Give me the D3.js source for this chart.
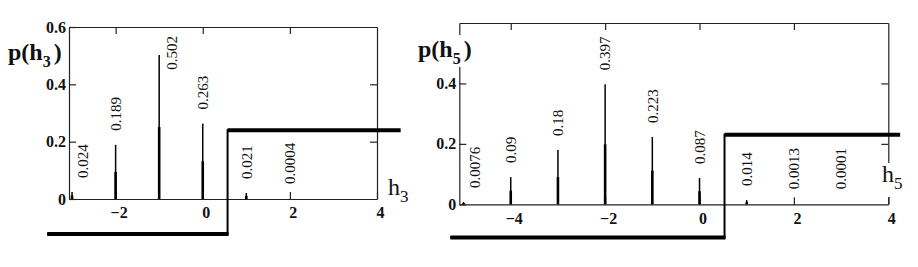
<!DOCTYPE html>
<html>
<head>
<meta charset="utf-8">
<script src="https://cdn.jsdelivr.net/npm/d3@7"></script>
<style>
  html, body { margin: 0; padding: 0; background: #fff; }
  svg { display: block; }
</style>
</head>
<body>
<div id="chart"></div>
<script>
// h3 distribution
const h3Values = [-3, -2, -1, 0, 1, 2];
const p3Values = [0.024, 0.189, 0.502, 0.263, 0.021, 0.0004];
const h3Ticks = [-2, 0, 2, 4];
const p3Ticks = [0, 0.2, 0.4, 0.6];
const step3 = [[-3.57, -0.122], [0.57, -0.122], [0.57, 0.24], [4.52, 0.24]];

// h5 distribution
const h5Values = [-5, -4, -3, -2, -1, 0, 1, 2, 3];
const p5Values = [0.0076, 0.09, 0.18, 0.397, 0.223, 0.087, 0.014, 0.0013, 0.0001];
const h5Ticks = [-4, -2, 0, 2, 4];
const p5Ticks = [0, 0.2, 0.4];
const step5 = [[-5.28, -0.11], [0.53, -0.11], [0.53, 0.23], [4.23, 0.23]];

const SERIF = '"Liberation Serif"';
const INK = '#222';
const fmt = d => (d < 0 ? '\u2212' : '') + String(Math.abs(d));

const svg = d3.select('#chart').append('svg')
  .attr('width', 918).attr('height', 267);

function panel(o) {
  const x = d3.scaleLinear().domain(o.xDomain).range([o.left, o.right]);
  const y = d3.scaleLinear().domain([0, 0.6]).range([o.bottom, o.top]);
  const g = svg.append('g');
  const yMax = y.domain()[1], xMax = x.domain()[1];

  const style = sel => {
    sel.attr('font-family', null).attr('font-size', null);
    sel.select('.domain').attr('stroke', INK).attr('stroke-width', 1.2);
    sel.selectAll('.tick line').attr('stroke', INK).attr('stroke-width', 1.2);
    sel.selectAll('.tick text').style('font-family', SERIF)
      .attr('font-size', 16).attr('font-weight', 'bold').attr('fill', '#111');
  };

  // box: bottom, top, left, right
  g.append('g').attr('transform', `translate(0,${o.bottom})`)
    .call(d3.axisBottom(x).tickValues(o.xTicks).tickSizeInner(-7).tickSizeOuter(0).tickPadding(8).tickFormat(fmt))
    .call(style)
    .call(s => s.selectAll('.tick text').attr('dx', 3));

  g.append('g').attr('transform', `translate(0,${o.top})`)
    .call(d3.axisTop(x).tickValues(o.xTicks.filter(v => v < xMax)).tickSizeInner(-7).tickSizeOuter(0).tickFormat(''))
    .call(style);

  g.append('g').attr('transform', `translate(${o.left},0)`)
    .call(d3.axisLeft(y).tickValues(o.yTicks).tickSizeInner(-7).tickSizeOuter(0).tickPadding(3).tickFormat(fmt))
    .call(style);

  g.append('g').attr('transform', `translate(${o.right},0)`)
    .call(d3.axisRight(y).tickValues(o.yTicks.filter(v => v > 0 && v < yMax)).tickSizeInner(-7).tickSizeOuter(0).tickFormat(''))
    .call(style);

  // stems
  const data = o.h.map((h, i) => ({ h, p: o.p[i] }));
  g.selectAll('.stem').data(data).join('line')
    .attr('x1', d => x(d.h)).attr('x2', d => x(d.h))
    .attr('y1', y(0)).attr('y2', d => y(d.p))
    .attr('stroke', '#000').attr('stroke-width', 1.5);
  g.selectAll('.stem-base').data(data).join('line')
    .attr('x1', d => x(d.h)).attr('x2', d => x(d.h))
    .attr('y1', y(0)).attr('y2', d => y(d.p / 2))
    .attr('stroke', '#000').attr('stroke-width', 2.6);

  // value labels, rotated, above stems
  data.forEach(d => {
    const label = String(d.p);
    const len = label.length * 7.5 - 3.75;
    const top = y(d.p);
    let lx = x(d.h), ly, anchor = 'start';
    if (lx - o.left < 8) lx += 11;
    if (top - 14 - len < o.top + 5) {
      lx += 13; ly = o.top + 9; anchor = 'end';
    } else {
      ly = Math.min(top - 14, o.bottom - 15);
    }
    g.append('text')
      .attr('transform', `translate(${lx},${ly}) rotate(-90)`)
      .attr('text-anchor', anchor).attr('dy', '0.35em')
      .style('font-family', SERIF)
      .attr('font-size', 15).attr('fill', '#111')
      .text(label);
  });

  // step line overlay
  const pts = o.step.map(([sx, sy]) => [x(sx), y(sy)]);
  g.append('path').attr('d', d3.line()(pts))
    .attr('fill', 'none').attr('stroke', '#000').attr('stroke-width', 2);
  d3.pairs(pts).filter(([a, b]) => a[1] === b[1]).forEach(([a, b]) => {
    g.append('line').attr('x1', a[0]).attr('x2', b[0] + 1).attr('y1', a[1]).attr('y2', b[1])
      .attr('stroke', '#000').attr('stroke-width', 4);
  });

  // axis titles
  const yt = g.append('g');
  if (o.yTitleBg) yt.append('rect').attr('x', o.yTitle[0]).attr('y', o.yTitle[1] - 22)
    .attr('width', 56).attr('height', 32).attr('fill', '#fff');
  yt.append('text').attr('x', o.yTitle[0]).attr('y', o.yTitle[1])
    .style('font-family', SERIF)
    .attr('font-size', 24).attr('font-weight', 'bold').attr('fill', '#111')
    .call(t => {
      t.append('tspan').text('p(h');
      t.append('tspan').attr('font-size', 16).attr('dy', 7).text(o.sub);
      t.append('tspan').attr('dy', -7).attr('dx', 3).text(')');
    });

  const xt = g.append('g');
  if (o.xTitleBg) xt.append('rect').attr('x', o.xTitle[0] - 1).attr('y', o.xTitle[1] - 19)
    .attr('width', 24).attr('height', 34).attr('fill', '#fff');
  xt.append('text').attr('x', o.xTitle[0]).attr('y', o.xTitle[1])
    .style('font-family', SERIF)
    .attr('font-size', 24).attr('fill', '#111')
    .call(t => {
      t.append('tspan').text('h');
      t.append('tspan').attr('font-size', 17).attr('dy', 7).text(o.sub);
    });
}

panel({
  left: 69, right: 377, top: 27, bottom: 199,
  xDomain: [-3.07, 4],
  h: h3Values, p: p3Values, xTicks: h3Ticks, yTicks: p3Ticks, step: step3,
  sub: '3', yTitle: [8, 60], xTitle: [388, 195]
});

panel({
  left: 459.3, right: 888.3, top: 23, bottom: 204.3,
  xDomain: [-5.09, 4],
  h: h5Values, p: p5Values, xTicks: h5Ticks, yTicks: p5Ticks, step: step5,
  sub: '5', yTitle: [418, 57], yTitleBg: true, xTitle: [882, 182], xTitleBg: true
});
</script>
</body>
</html>
